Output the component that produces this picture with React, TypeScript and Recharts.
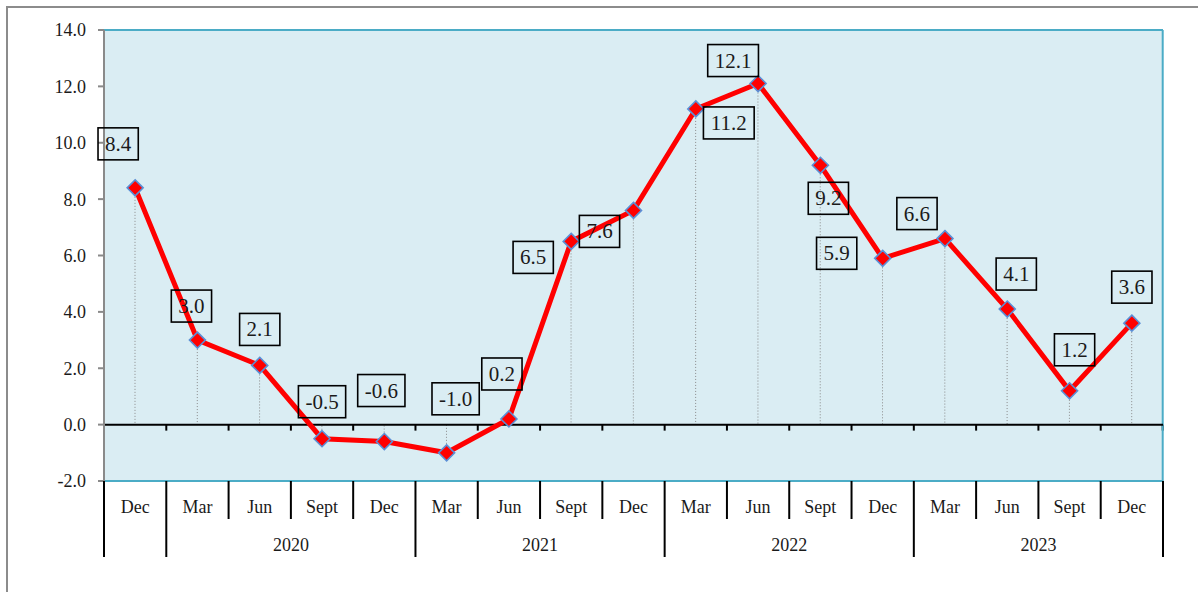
import {
  ComposedChart,
  Bar,
  Line,
  XAxis,
  YAxis,
  ReferenceArea,
  ReferenceLine,
  LabelList,
} from "recharts"

const months = ["Dec", "Mar", "Jun", "Sept", "Dec", "Mar", "Jun", "Sept", "Dec", "Mar", "Jun", "Sept", "Dec", "Mar", "Jun", "Sept", "Dec"]

const years = ["", "2020", "2020", "2020", "2020", "2021", "2021", "2021", "2021", "2022", "2022", "2022", "2022", "2023", "2023", "2023", "2023"]

const growth = [8.4, 3.0, 2.1, -0.5, -0.6, -1.0, 0.2, 6.5, 7.6, 11.2, 12.1, 9.2, 5.9, 6.6, 4.1, 1.2, 3.6]

const yTicks = [-2, 0, 2, 4, 6, 8, 10, 12, 14]

// where each value box sits relative to its point (dx, dy of the box centre)
const labelOffsets = [
  [-17, -44], [-6, -34], [0, -36], [0, -37], [-3, -51], [9, -54], [-7, -45],
  [-38, 16], [-34, 21], [33, 14], [-25, -23], [8, 33], [-46, -5], [-28, -25],
  [9, -35], [5, -41], [0, -36],
]

const data = months.map((m, i) => ({
  key: `${m}-${i}`,
  month: m,
  year: years[i],
  value: growth[i],
}))

const W = 1198
const H = 592
const TOP = 30
const RIGHT = 35
const Y_W = 104
const X_H = 111
const PLOT_W = W - Y_W - RIGHT
const PLOT_BOTTOM = H - X_H
const BAND = PLOT_W / months.length

const FONT = "'Liberation Serif', 'Times New Roman', serif"

const DropLine = (props: any) => {
  const { x, y, width, height, payload } = props
  const i = data.findIndex((d) => d.key === payload.key)
  const a = y
  const b = y + height
  const pos = payload.value >= 0
  const zeroY = pos ? Math.max(a, b) : Math.min(a, b)
  const pointY = pos ? Math.min(a, b) : Math.max(a, b)
  const cx = x + width / 2
  return (
    <g>
      <line x1={cx} x2={cx} y1={pointY} y2={zeroY} stroke="#8a8a8a" strokeWidth={1} strokeDasharray="1 2" />
      <line x1={x} x2={x} y1={zeroY} y2={zeroY + 6} stroke="#000" strokeWidth={2} />
      {i === data.length - 1 && (
        <line x1={x + width} x2={x + width} y1={zeroY} y2={zeroY + 6} stroke="#000" strokeWidth={2} />
      )}
      {i === data.length - 1 && (
        <line x1={x + width} x2={x + width} y1={TOP} y2={PLOT_BOTTOM} stroke="#4BACC6" strokeWidth={2} />
      )}
    </g>
  )
}

const Diamond = (props: any) => {
  const { cx, cy, index } = props
  const r = 8
  return (
    <path
      key={`d-${index}`}
      d={`M${cx},${cy - r} L${cx + r},${cy} L${cx},${cy + r} L${cx - r},${cy} Z`}
      fill="#FF0000"
      stroke="#5B8FD6"
      strokeWidth={1.6}
    />
  )
}

const charW = (s: string) =>
  s.split("").reduce((t, c) => t + (c === "." ? 5.25 : c === "-" ? 7 : 10.5), 0)

const ValueBox = (props: any) => {
  const { x, y, value, index } = props
  const text = Number(value).toFixed(1)
  const [dx, dy] = labelOffsets[index] || [0, -36]
  const w = charW(text) + 14
  const h = 32
  const cx = x + dx
  const cy = y + dy
  return (
    <g>
      <rect x={cx - w / 2} y={cy - h / 2} width={w} height={h} fill="none" stroke="#000" strokeWidth={1.6} />
      <text x={cx} y={cy + 7} textAnchor="middle" fontSize={21} fontFamily={FONT} fill="#1a1a1a">
        {text}
      </text>
    </g>
  )
}

const MonthTick = (props: any) => {
  const { x, index } = props
  const d = data[index]
  if (!d) return null
  const left = x - BAND / 2
  const right = x + BAND / 2
  const top = PLOT_BOTTOM
  const yearStart = index === 0 || d.year !== data[index - 1].year
  let span = 0
  if (yearStart && d.year) {
    span = data.filter((r) => r.year === d.year).length
  }
  const last = index === data.length - 1
  return (
    <g>
      <line x1={left} x2={left} y1={top} y2={yearStart ? top + 76 : top + 38} stroke="#000" strokeWidth={2} />
      {last && <line x1={right} x2={right} y1={top} y2={top + 76} stroke="#000" strokeWidth={2} />}
      <text x={x} y={top + 32} textAnchor="middle" fontSize={18} fontFamily={FONT} fill="#1a1a1a">
        {d.month}
      </text>
      {span > 0 && (
        <text x={left + (span * BAND) / 2} y={top + 70} textAnchor="middle" fontSize={18} fontFamily={FONT} fill="#1a1a1a">
          {d.year}
        </text>
      )}
    </g>
  )
}

export default function App() {
  return (
    <div
      style={{
        position: "fixed",
        left: 0,
        top: 0,
        width: W,
        height: H,
        overflow: "hidden",
        background: "#fff",
      }}
    >
      <div
        style={{
          position: "absolute",
          left: 6,
          top: 6,
          width: 1300,
          height: 700,
          border: "2px solid #8c8c8c",
        }}
      />
      <div style={{ position: "absolute", left: 0, top: 0 }}>
        <ComposedChart
          width={W}
          height={H}
          data={data}
          margin={{ top: TOP, right: RIGHT, left: 0, bottom: 0 }}
          barCategoryGap={0}
        >
          <ReferenceArea y1={-2} y2={14} fill="#DAEDF3" fillOpacity={1} stroke="none" />
          <ReferenceLine y={14} stroke="#4BACC6" strokeWidth={2} />
          <ReferenceLine y={-2} stroke="#4BACC6" strokeWidth={2} />

          <XAxis
            dataKey="key"
            height={X_H}
            axisLine={false}
            tickLine={false}
            tickSize={0}
            tickMargin={0}
            interval={0}
            tick={<MonthTick />}
          />

          <YAxis
            width={Y_W}
            domain={[-2, 14]}
            ticks={yTicks}
            interval={0}
            allowDataOverflow
            axisLine={{ stroke: "#8a8a8a", strokeWidth: 2 }}
            tickLine={{ stroke: "#8a8a8a", strokeWidth: 2 }}
            tickSize={6}
            tickMargin={12}
            tick={{ fill: "#1a1a1a", fontSize: 18, fontFamily: FONT }}
            tickFormatter={(v: number) => v.toFixed(1)}
          />

          <Bar dataKey="value" shape={<DropLine />} isAnimationActive={false} />

          <ReferenceLine y={0} stroke="#000" strokeWidth={2} />

          <Line
            dataKey="value"
            type="linear"
            stroke="#FF0000"
            strokeWidth={5}
            dot={<Diamond />}
            activeDot={false}
            isAnimationActive={false}
          >
            <LabelList dataKey="value" content={<ValueBox />} />
          </Line>
        </ComposedChart>
      </div>
    </div>
  )
}
